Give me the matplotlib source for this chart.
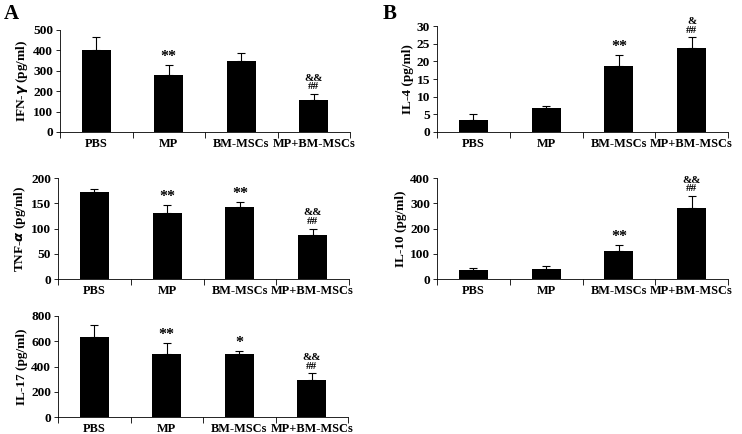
import numpy as np
import matplotlib.pyplot as plt
import matplotlib.transforms as mtransforms

plt.rcParams['font.family'] = ['Liberation Serif', 'DejaVu Serif']
plt.rcParams['font.weight'] = 'bold'

groups = ['PBS', 'MP', 'BM-MSCs', 'MP+BM-MSCs']

ifn_mean = [400, 280, 348, 158]
ifn_err = [65, 50, 40, 30]
ifn_marks = ['', '**', '', '&&\n##']

tnf_mean = [173, 131, 142, 88]
tnf_err = [6, 15, 10, 12]
tnf_marks = ['', '**', '**', '&&\n##']

il17_mean = [630, 500, 500, 290]
il17_err = [100, 85, 22, 55]
il17_marks = ['', '**', '*', '&&\n##']

il4_mean = [3.5, 6.7, 18.7, 23.8]
il4_err = [1.5, 0.6, 3.0, 3.0]
il4_marks = ['', '', '**', '&\n##']

il10_mean = [37, 40, 110, 280]
il10_err = [8, 11, 25, 48]
il10_marks = ['', '', '**', '&&\n##']

W, H = 742, 434
fig = plt.figure(figsize=(W / 100, H / 100), dpi=100)


def make_ax(left, top, right, bottom):
    return fig.add_axes([left / W, 1 - bottom / H, (right - left) / W, (bottom - top) / H])


def panel(ax, mean, err, marks, ymax, step, ylabel):
    x = np.arange(len(groups))
    ax.bar(x, mean, width=0.4, color='black', zorder=2)
    ax.errorbar(x, mean, yerr=[np.zeros(len(err)), err], fmt='none',
                ecolor='black', elinewidth=0.8, capsize=3, capthick=0.8, zorder=1)
    for xi, m, e, s in zip(x, mean, err, marks):
        if s:
            if '\n' in s:
                ax.annotate(s, (xi, m + e), xytext=(0, 2), textcoords='offset points',
                            ha='center', va='bottom', fontsize=8, linespacing=0.9)
            else:
                ax.annotate(s, (xi, m + e), xytext=(0, 0), textcoords='offset points',
                            ha='center', va='bottom', fontsize=11.5)
    ax.set_xlim(-0.5, 3.5)
    ax.set_ylim(0, ymax)
    ax.set_yticks(np.arange(0, ymax + step / 2, step))
    ax.set_xticks(x)
    ax.set_xticklabels(groups, fontsize=8.9, fontweight='bold')
    # Excel nudges the long last label to the right
    shift = mtransforms.ScaledTranslation(5 / 100, 0, fig.dpi_scale_trans)
    last = ax.get_xticklabels()[-1]
    last.set_transform(last.get_transform() + shift)
    ax.set_xticks(np.arange(-0.5, 4, 1), minor=True)
    ax.tick_params(axis='x', which='major', length=0, pad=4)
    ax.tick_params(axis='x', which='minor', length=4, width=0.6, direction='out')
    ax.tick_params(axis='y', length=3, width=0.6, labelsize=9.6, pad=2)
    for lab in ax.get_yticklabels():
        lab.set_fontweight('bold')
    ax.set_ylabel(ylabel, fontsize=9.5, fontweight='bold', labelpad=2)
    ax.spines['top'].set_visible(False)
    ax.spines['right'].set_visible(False)
    ax.spines['left'].set_linewidth(0.6)
    ax.spines['bottom'].set_linewidth(0.6)


a1 = make_ax(60, 30, 350, 132)
panel(a1, ifn_mean, ifn_err, ifn_marks, 500, 100, r'IFN-$\gamma$ (pg/ml)')
a2 = make_ax(58, 178, 349, 279)
panel(a2, tnf_mean, tnf_err, tnf_marks, 200, 50, r'TNF-$\alpha$ (pg/ml)')
a3 = make_ax(58, 316, 348, 417)
panel(a3, il17_mean, il17_err, il17_marks, 800, 200, 'IL-17 (pg/ml)')
b1 = make_ax(437, 26, 728, 132)
panel(b1, il4_mean, il4_err, il4_marks, 30, 5, 'IL-4 (pg/ml)')
b2 = make_ax(437, 178, 728, 279)
panel(b2, il10_mean, il10_err, il10_marks, 400, 100, 'IL-10 (pg/ml)')

fig.text(4 / W, 1 - 14 / H, 'A', fontsize=15, fontweight='bold', va='center')
fig.text(383 / W, 1 - 14 / H, 'B', fontsize=15, fontweight='bold', va='center')

fig.savefig('out.png', dpi=100, facecolor='white')
